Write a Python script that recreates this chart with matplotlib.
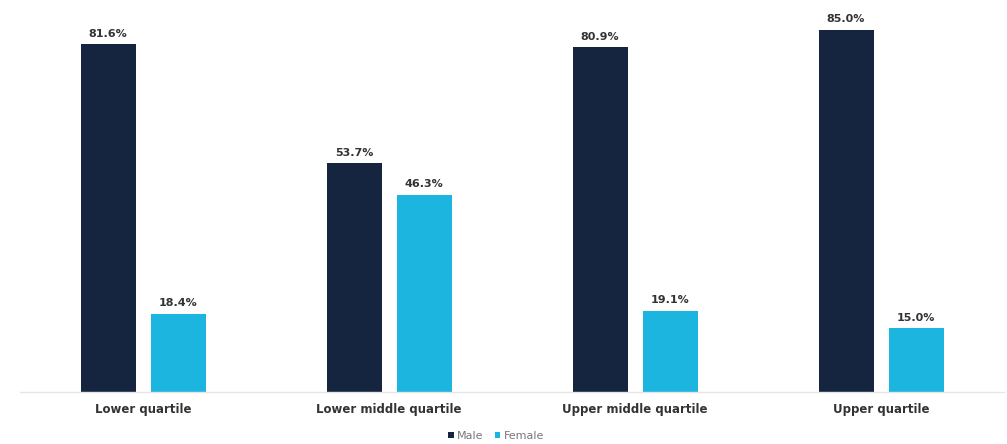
import matplotlib
matplotlib.use("Agg")
import matplotlib.pyplot as plt
import numpy as np

categories = ["Lower quartile", "Lower middle quartile", "Upper middle quartile", "Upper quartile"]
male = [81.6, 53.7, 80.9, 85.0]
female = [18.4, 46.3, 19.1, 15.0]
series_names = ["Male", "Female"]

male_color = "#15243F"
female_color = "#1CB5DF"

fig = plt.figure(figsize=(10.07, 4.44), dpi=100)
ax = fig.add_axes([20 / 1007, 52 / 444, 984 / 1007, (392 - 8.6) / 444])

x = np.arange(len(categories))
width = 55 / 246
offset = 35 / 246

b1 = ax.bar(x - offset, male, width, color=male_color, label=series_names[0])
b2 = ax.bar(x + offset, female, width, color=female_color, label=series_names[1])

for bars in (b1, b2):
    for rect in bars:
        h = rect.get_height()
        ax.annotate(f"{h:.1f}%", (rect.get_x() + rect.get_width() / 2, h),
                    xytext=(0, 4), textcoords="offset points",
                    ha="center", va="bottom", fontsize=8, fontweight="bold",
                    color="#333333")

ax.set_xlim(-0.5, len(categories) - 0.5)
ax.set_ylim(0, 90)
ax.set_xticks(x)
ax.set_xticklabels(categories, fontsize=8.5, fontweight="bold", color="#333333")
ax.tick_params(axis="x", length=0, pad=8)
ax.set_yticks([])
for side in ("top", "right", "left"):
    ax.spines[side].set_visible(False)
ax.spines["bottom"].set_color("#E6E6E6")
ax.spines["bottom"].set_linewidth(1)

fig.legend(handles=[b1, b2], labels=series_names, loc="center",
           bbox_to_anchor=(496 / 1007, 1 - 436 / 444), ncol=2, frameon=False,
           fontsize=8, handlelength=0.5, handleheight=0.5, handletextpad=0.3,
           columnspacing=1.0, labelcolor="#777777")

fig.savefig("out.png", dpi=100)
